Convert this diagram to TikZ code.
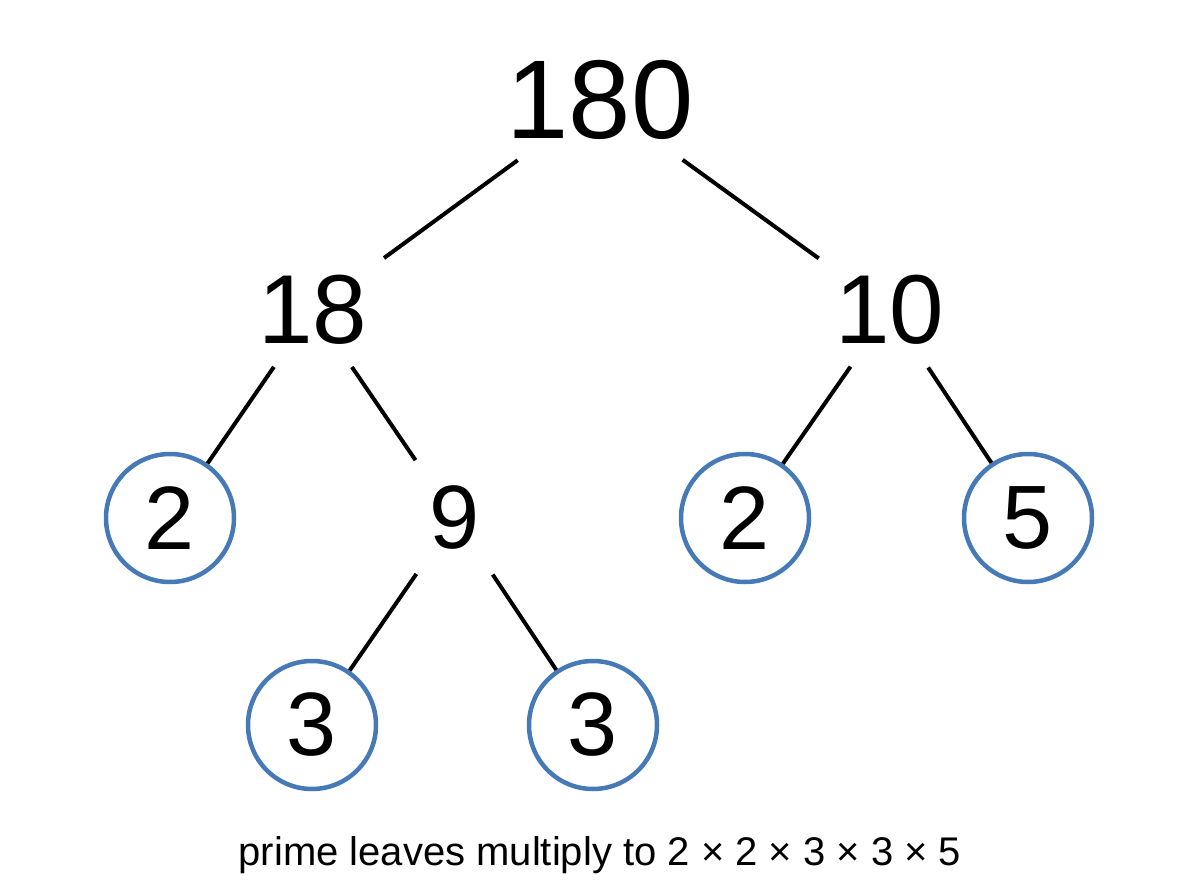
\documentclass[tikz,border=0pt]{standalone}
\usepackage{fontspec}
\setmainfont{Liberation Sans}
\definecolor{ringblue}{RGB}{70,122,182}
\begin{document}
\begin{tikzpicture}[x=1pt,y=-1pt,
  big/.style={inner sep=0pt,font=\fontsize{112}{120}\selectfont},
  mid/.style={inner sep=0pt,font=\fontsize{98}{110}\selectfont},
  num/.style={inner sep=0pt,font=\fontsize{90}{100}\selectfont},
  prime/.style={circle,draw=ringblue,line width=4.5pt,minimum size=128pt,inner sep=0pt,font=\fontsize{90}{100}\selectfont},
  edge/.style={line width=4pt,black}]
\useasboundingbox (0,0) rectangle (1200,896);
\fill[white] (0,0) rectangle (1200,896);
\node[big] (n180) at (600,100) {180};
\node[mid] (n18) at (313,310) {18};
\node[mid] (n10) at (890,310) {10};
\node[num] (n9) at (455,518) {9};
\node[prime] (p2a) at (170,518) {2};
\node[prime] (p2b) at (745,518) {2};
\node[prime] (p5) at (1028,518) {5};
\node[prime] (p3a) at (312,725) {3};
\node[prime] (p3b) at (593,725) {3};
\draw[edge,shorten <=102pt,shorten >=88pt] (n180.center) -- (n18.center);
\draw[edge,shorten <=102pt,shorten >=88pt] (n180.center) -- (n10.center);
\draw[edge,shorten <=69pt,shorten >=70pt] (n18.center) -- (n9.center);
\draw[edge,shorten <=69pt] (n18.center) -- (p2a);
\draw[edge,shorten <=69pt] (n10.center) -- (p2b);
\draw[edge,shorten <=69pt] (n10.center) -- (p5);
\draw[edge,shorten <=68pt] (n9.center) -- (p3a);
\draw[edge,shorten <=68pt] (n9.center) -- (p3b);
\node[font=\fontsize{40}{48}\selectfont] (cap) at (600,855) {prime leaves multiply to 2 × 2 × 3 × 3 × 5};
\end{tikzpicture}
\end{document}
